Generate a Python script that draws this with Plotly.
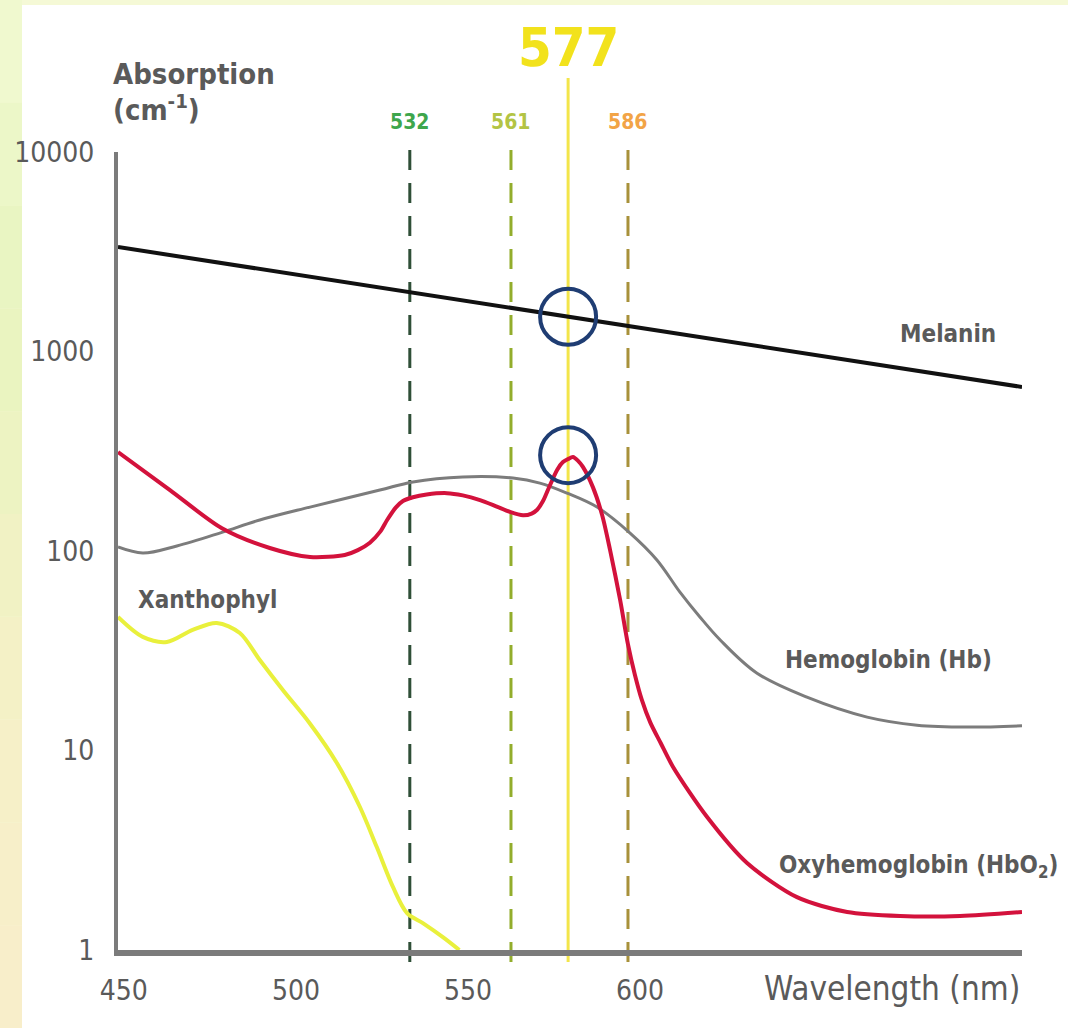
import numpy as np
import plotly.graph_objects as go

# ---------------- data ----------------
wl_melanin = [448.3, 711.0]
abs_melanin = [3340, 664]

wl_hb = [448.3, 455.5, 465.4, 478.5, 489.5, 504.1, 524.4, 534.0, 548.5, 563.1, 570.9,
         578.8, 587.5, 597.1, 604.9, 611.6, 617.4, 623.3, 634.0, 648.5, 666.0, 680.5,
         695.1, 711.0]
abs_hb = [104.7, 97.7, 106, 124, 143, 166, 202, 222, 235, 232, 219,
          195, 166, 123, 90.2, 62.2, 46.7, 35.8, 24.4, 18.5, 14.7, 13.4,
          13.1, 13.3]

wl_hbo2 = [448.3, 463.4, 478.5, 492.4, 504.1, 514.2, 518.0, 521.5, 524.5, 526.5, 529.0,
           531.1, 534.0, 538.0, 543.9, 548.5, 553.5, 558.0, 562.2, 566.0, 568.5, 570.1,
           571.8, 573.0, 575.9, 577.6, 579.1, 580.5, 582.0, 583.4, 586.3, 589.0, 591.3,
           594.2, 596.5, 598.5, 600.5, 603.0, 606.0, 609.6, 619.5, 631.1, 645.6, 660.2,
           675.6, 693.0, 711.0]
abs_hbo2 = [313, 202, 130, 103.5, 93.3, 95.5, 101, 110, 125, 143, 165,
            178, 186, 192, 195, 190, 180, 168, 157, 151, 154, 161,
            178, 198, 255, 279, 289, 296, 283, 264, 209, 151, 101,
            57, 34, 24, 18, 13.8, 10.9, 8.27, 4.64, 2.73, 1.84, 1.55,
            1.48, 1.48, 1.55]

wl_xan = [448.3, 455.5, 462.5, 470.0, 477.0, 483.7, 489.5, 496.2, 504.0, 511.9, 518.6,
          523.5, 528.2, 532.3, 537.0, 542.7, 547.5]
abs_xan = [46.7, 37.1, 35.0, 40.2, 43.6, 38.8, 28.4, 20.1, 13.7, 8.66, 5.21,
           3.28, 2.07, 1.53, 1.36, 1.16, 1.0]

laser_pos = [533.1, 562.5, 579.1, 596.5]          # where the lines are drawn
laser_labels = ["532", "561", "577", "586"]

x_ticks = [450, 500, 550, 600]
y_ticks = [1, 10, 100, 1000, 10000]
y_ticktext = ["1", "10", "100", "1000", "10000"]

# ---------------- styling ----------------
FONT_W = "DejaVu Sans Condensed, DejaVu Sans, sans-serif"
LABEL_GRAY = "#5a5a5a"
PLOT_W = 904.0   # px
PLOT_H = 798.0   # px

def px_x(p):      # paper x from absolute pixel
    return (p - 118) / PLOT_W

def px_y(p):      # paper y from absolute pixel
    return (950 - p) / PLOT_H

fig = go.Figure()

fig.add_trace(go.Scatter(x=wl_xan, y=abs_xan, mode="lines",
                         line=dict(color="#e9f03c", width=4, shape="spline", smoothing=0.9),
                         hoverinfo="skip"))
fig.add_trace(go.Scatter(x=wl_hb, y=abs_hb, mode="lines",
                         line=dict(color="#7c7c7c", width=3, shape="spline", smoothing=1.0),
                         hoverinfo="skip"))
fig.add_trace(go.Scatter(x=wl_hbo2, y=abs_hbo2, mode="lines",
                         line=dict(color="#d3123c", width=4, shape="spline", smoothing=0.8),
                         hoverinfo="skip"))
fig.add_trace(go.Scatter(x=wl_melanin, y=abs_melanin, mode="lines",
                         line=dict(color="#111111", width=4),
                         hoverinfo="skip"))

# circles highlighting the 577 nm crossings
val_mel = 10 ** np.interp(laser_pos[2], wl_melanin, np.log10(abs_melanin))
val_peak = max(abs_hbo2) * 10 ** -0.015
fig.add_trace(go.Scatter(x=[laser_pos[2], laser_pos[2]], y=[float(val_mel), float(val_peak)],
                         mode="markers", hoverinfo="skip",
                         marker=dict(symbol="circle-open", size=56, color="#1f3d73",
                                     line=dict(width=4, color="#1f3d73"))))

shapes = []
# background: pale border strips
shapes.append(dict(type="rect", xref="paper", yref="paper", layer="below",
                   x0=px_x(0), x1=px_x(1068), y0=px_y(1028), y1=px_y(0),
                   fillcolor="#f5f9d6", line=dict(width=0)))
strip_cols = ["#f0f9cf", "#ecf7c8", "#e9f5c2", "#eaf4c0", "#edf3c2",
              "#f1f2c4", "#f4f1c6", "#f6f0c8", "#f7efc9", "#f8eeca"]
n = len(strip_cols)
for i, c in enumerate(strip_cols):
    shapes.append(dict(type="rect", xref="paper", yref="paper", layer="below",
                       x0=px_x(0), x1=px_x(22),
                       y0=px_y(1028 * (i + 1) / n), y1=px_y(1028 * i / n),
                       fillcolor=c, line=dict(width=0)))
shapes.append(dict(type="rect", xref="paper", yref="paper", layer="below",
                   x0=px_x(22), x1=px_x(1068), y0=px_y(1028), y1=px_y(5),
                   fillcolor="#ffffff", line=dict(width=0)))

dash_cols = ["#2f4f37", "#93ad2c", None, "#a8913a"]
label_cols = ["#3ea64c", "#b3c444", "#f2e21c", "#f2a446"]
for i, pos in enumerate(laser_pos):
    if i == 2:
        shapes.append(dict(type="line", xref="x", yref="paper", layer="below",
                           x0=pos, x1=pos, y0=px_y(962), y1=px_y(78),
                           line=dict(color="#f3e54a", width=3)))
    else:
        shapes.append(dict(type="line", xref="x", yref="paper", layer="below",
                           x0=pos, x1=pos, y0=px_y(962), y1=px_y(148),
                           line=dict(color=dash_cols[i], width=3, dash="20px,13px")))

annotations = []
for i, (pos, lab) in enumerate(zip(laser_pos, laser_labels)):
    if i == 2:
        annotations.append(dict(x=pos, xref="x", y=px_y(47), yref="paper",
                                text="<b>%s</b>" % lab, showarrow=False,
                                font=dict(family=FONT_W, size=54, color=label_cols[i]),
                                xanchor="center", yanchor="middle"))
    else:
        annotations.append(dict(x=pos, xref="x", y=px_y(122), yref="paper",
                                text="<b>%s</b>" % lab, showarrow=False,
                                font=dict(family=FONT_W, size=21, color=label_cols[i]),
                                xanchor="center", yanchor="middle"))

def lbl(text, xp, yp, anchor, size=24, bold=True, color=LABEL_GRAY):
    annotations.append(dict(x=xp, xref="paper", y=yp, yref="paper",
                            text=("<b>%s</b>" % text) if bold else text,
                            showarrow=False, xanchor=anchor, yanchor="middle",
                            font=dict(family=FONT_W, size=size, color=color)))

lbl("Melanin", px_x(998), px_y(334), "right")
lbl("Hemoglobin (Hb)", px_x(994), px_y(660), "right")
lbl("Oxyhemoglobin (HbO<sub>2</sub>)", px_x(1060), px_y(866), "right")
lbl("Xanthophyl", px_x(136), px_y(600), "left")
lbl("Absorption", px_x(111), px_y(74), "left", size=29)
lbl("(cm<sup>-1</sup>)", px_x(111), px_y(108), "left", size=29)
lbl("Wavelength (nm)", px_x(1022), px_y(988), "right", size=33, bold=False)

fig.update_layout(
    width=1068, height=1028,
    margin=dict(l=118, r=46, t=152, b=78, pad=0),
    paper_bgcolor="#ffffff",
    plot_bgcolor="rgba(0,0,0,0)",
    showlegend=False,
    shapes=shapes,
    annotations=annotations,
    xaxis=dict(range=[448.3, 711.0], tickvals=x_ticks, ticktext=[str(v) for v in x_ticks],
               showgrid=False, zeroline=False, showline=True, linecolor="#7b7b7b", linewidth=6,
               ticks="outside", ticklen=10, tickcolor="rgba(0,0,0,0)",
               tickfont=dict(family=FONT_W, size=28, color=LABEL_GRAY)),
    yaxis=dict(type="log", range=[0, 4], tickvals=y_ticks, ticktext=y_ticktext,
               showgrid=False, zeroline=False, showline=True, linecolor="#7b7b7b", linewidth=4,
               ticks="outside", ticklen=14, tickcolor="rgba(0,0,0,0)",
               tickfont=dict(family=FONT_W, size=28, color=LABEL_GRAY)),
)

fig.write_html("out.html", config={"displayModeBar": False},
               post_script="document.body.style.margin='0';document.body.style.overflow='hidden';")
